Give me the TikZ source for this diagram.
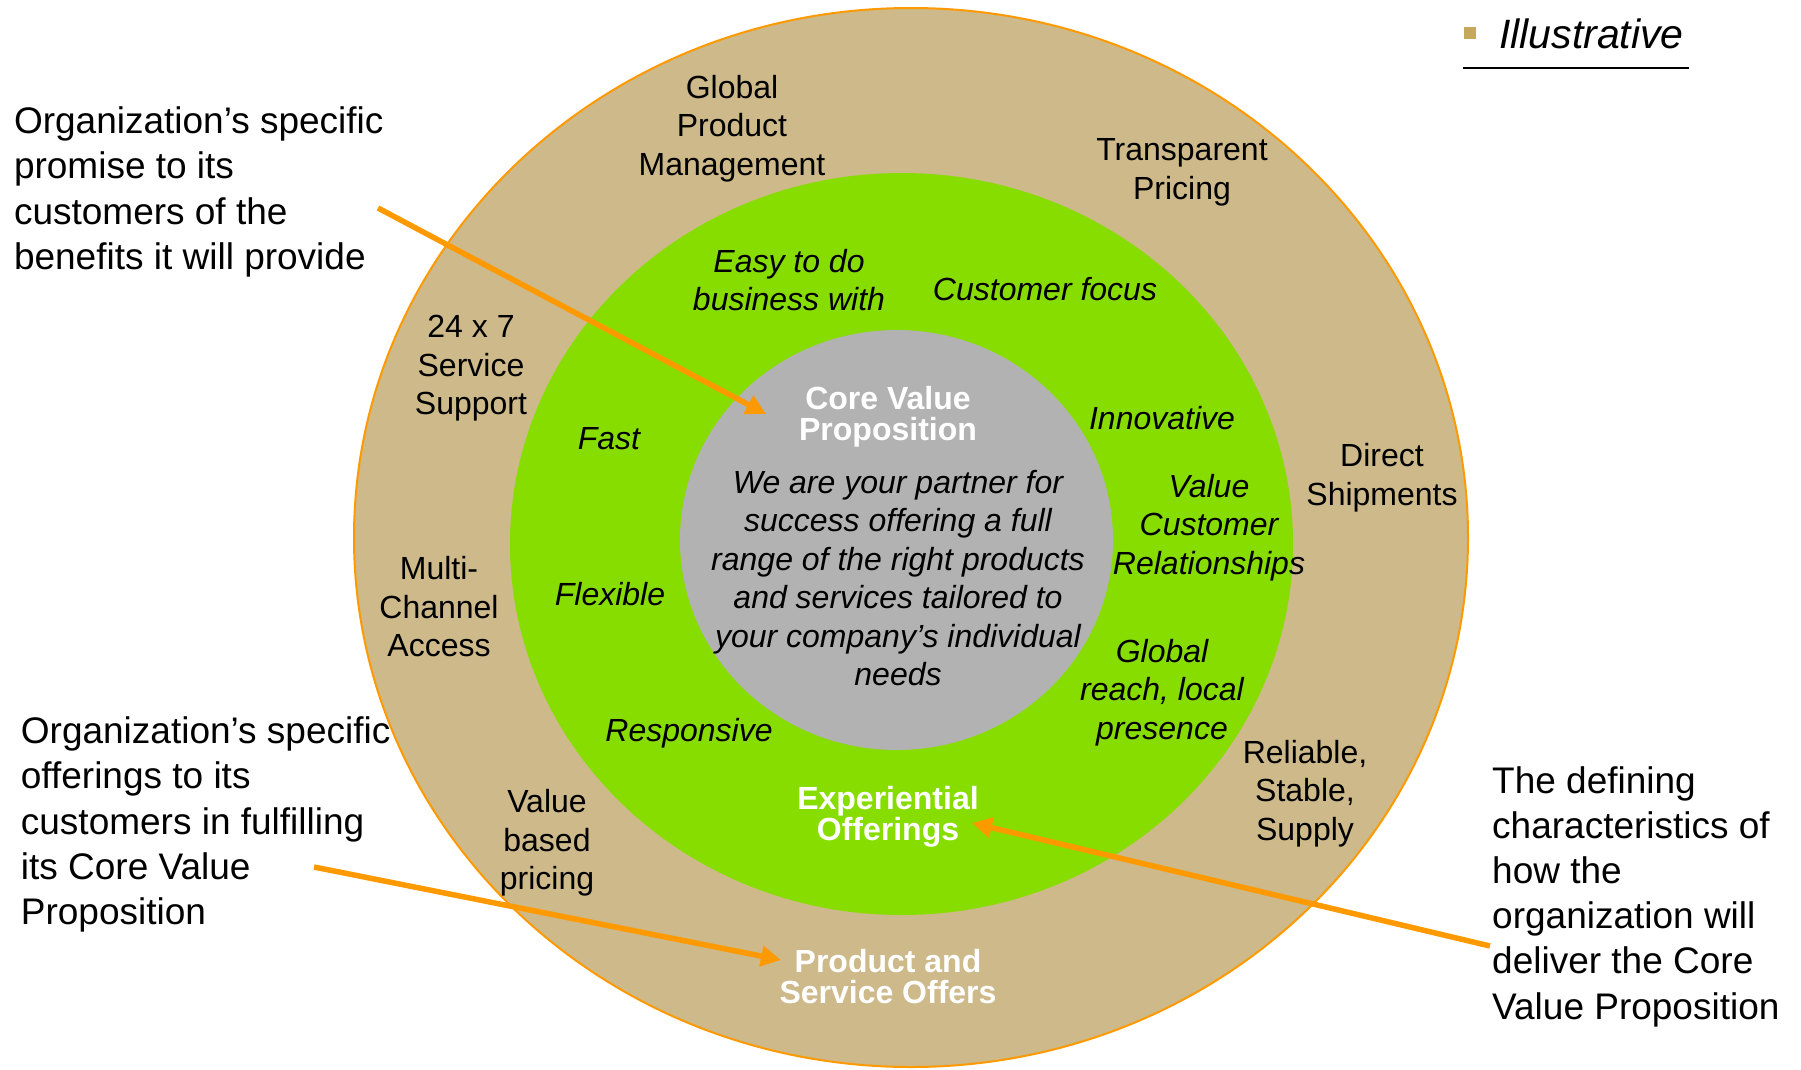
\documentclass[tikz,border=0pt]{standalone}
\usepackage{fontspec}
\setmainfont{Liberation Sans}
\usetikzlibrary{arrows.meta}
\definecolor{ringtan}{RGB}{205,185,137}
\definecolor{ringgreen}{RGB}{136,221,0}
\definecolor{coregray}{RGB}{178,178,178}
\definecolor{arroworange}{RGB}{255,153,0}
\definecolor{bulletgold}{RGB}{198,168,92}
\tikzset{
  ringlabel/.style={align=center, inner sep=0pt, font=\fontsize{32}{38.5}\selectfont},
  greenlabel/.style={align=center, inner sep=0pt, font=\fontsize{32}{38.5}\selectfont\itshape},
  titlelabel/.style={align=center, inner sep=0pt, text=white, font=\fontsize{32}{31}\selectfont\bfseries},
  notetext/.style={align=left, inner sep=0pt, font=\fontsize{37}{45.2}\selectfont},
  callout/.style={draw=arroworange, line width=5.5pt, -{Triangle[length=20pt,width=20pt]}},
}
\begin{document}
\begin{tikzpicture}[x=1pt,y=-1pt]
\useasboundingbox (0,0) rectangle (1801,1069);
% rings
\draw[fill=ringtan, draw=arroworange, line width=2pt] (911,537.5) ellipse [x radius=557, y radius=529.5];
\fill[ringgreen] (901.5,544) ellipse [x radius=391.5, y radius=371];
\fill[coregray] (896.5,540) ellipse [x radius=216.5, y radius=210];

% outer ring labels
\node[ringlabel] (gpm) at (732,128.5) {Global\\Product\\Management};
\node[ringlabel] (tp) at (1182,172.5) {Transparent\\Pricing};
\node[ringlabel] (svc) at (471,368.5) {24 x 7\\Service\\Support};
\node[ringlabel] (ds) at (1382,477.5) {Direct\\Shipments};
\node[ringlabel] (mca) at (439,607) {Multi-\\Channel\\Access};
\node[ringlabel] (rss) at (1305,793.5) {Reliable,\\Stable,\\Supply};
\node[ringlabel] (vbp) at (547,843) {Value\\based\\pricing};
\node[titlelabel] (pso) at (888,977) {Product and\\Service Offers};

% green ring labels
\node[greenlabel] (easy) at (789,280) {Easy to do\\business with};
\node[greenlabel] (cf) at (1045,289) {Customer focus};
\node[greenlabel] (fast) at (609,439) {Fast};
\node[greenlabel] (innov) at (1162,418) {Innovative};
\node[greenlabel] (vcr) at (1209,527.5) {Value\\Customer\\Relationships};
\node[greenlabel] (flex) at (610,594) {Flexible};
\node[greenlabel] (grlp) at (1162,692.5) {Global\\reach, local\\presence};
\node[greenlabel] (resp) at (689,733) {Responsive};
\node[titlelabel] (exp) at (888,816.5) {Experiential\\Offerings};

% core
\node[titlelabel] (cvp) at (888,416.5) {Core Value\\Proposition};
\node[greenlabel] (body) at (898,578) {We are your partner for\\success offering a full\\range of the right products\\and services tailored to\\your company’s individual\\needs};

% illustrative tag
\fill[bulletgold] (1464,27) rectangle (1476,39);
\node[inner sep=0pt, anchor=west, font=\fontsize{41}{45}\selectfont\itshape] (illus) at (1499,34) {Illustrative};
\draw[line width=2.5pt] (1463,68) -- (1689,68);

% annotations
\node[notetext, anchor=west] (note1) at (13.8,192) {Organization’s specific\\promise to its\\customers of the\\benefits it will provide};
\node[notetext, anchor=west] (note2) at (20.7,824.5) {Organization’s specific\\offerings to its\\customers in fulfilling\\its Core Value\\Proposition};
\node[notetext, anchor=west] (note3) at (1492,896.5) {The defining\\characteristics of\\how the\\organization will\\deliver the Core\\Value Proposition};

% callout arrows
\coordinate (a1s) at (378,208);
\coordinate (a1e) at (766,414);
\coordinate (a2s) at (314,867);
\coordinate (a2e) at (781,960);
\coordinate (a3s) at (1490,946);
\coordinate (a3e) at (972,823);
\draw[callout] (a1s) -- (a1e);
\draw[callout] (a2s) -- (a2e);
\draw[callout] (a3s) -- (a3e);
\end{tikzpicture}
\end{document}
